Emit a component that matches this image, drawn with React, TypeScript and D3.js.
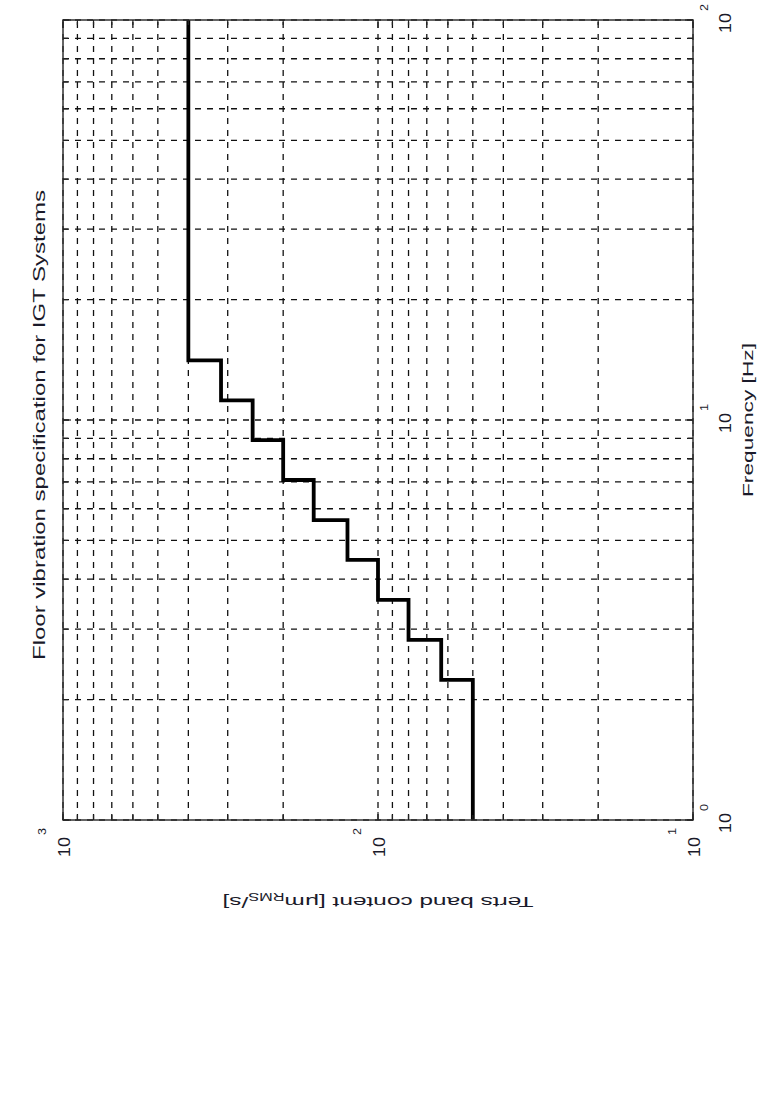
import React from "react";
import * as d3 from "d3";

// Third-octave band edges (Hz) and band content limits (um_RMS/s)
const bandEdges = [1, 2.24, 2.82, 3.55, 4.47, 5.62, 7.08, 8.91, 11.2, 14.1, 100];
const bandValues = [50, 63, 80, 100, 125, 160, 200, 250, 315, 400, 400];

const freqTicksMajor = [1, 10, 100];
const freqExponents = ["0", "1", "2"];
const contentTicksMajor = [10, 100, 1000];
const contentExponents = ["1", "2", "3"];

const freqGrid = [1, 2, 3, 4, 5, 6, 7, 8, 9, 10, 20, 30, 40, 50, 60, 70, 80, 90, 100];
const contentGrid = [10, 20, 30, 40, 50, 60, 70, 80, 90, 100, 200, 300, 400, 500, 600, 700, 800, 900, 1000];

const titleText = "Floor vibration specification for IGT Systems";
const xLabelText = "Frequency [Hz]";

const FONT = "'Liberation Sans', Arial, sans-serif";

export default function App() {
  // Chart drawn in its "original" frame, then rotated -90deg as a whole.
  const x = d3.scaleLog().domain([1, 100]).range([20, 820]);
  const y = d3.scaleLog().domain([10, 1000]).range([693, 63]);
  const [x0, x1] = x.range();
  const [y0, y1] = [y.range()[1], y.range()[0]];

  const pts = bandEdges.map((f, i) => [f, bandValues[i]] as [number, number]);
  const line = d3
    .line<[number, number]>()
    .x((d) => x(d[0]))
    .y((d) => y(d[1]))
    .curve(d3.curveStepAfter);

  const isMajor = (v: number) => Math.abs(Math.log10(v) - Math.round(Math.log10(v))) < 1e-9;

  return (
    <svg
      width={783}
      height={1095}
      style={{ position: "absolute", left: 0, top: 0, background: "#fff" }}
      fontFamily={FONT}
    >
      <rect x={0} y={0} width={783} height={1095} fill="#fff" />
      <g transform="translate(0,840) rotate(-90)">
        {/* grid */}
        <g stroke="#111" strokeWidth={1.3} strokeDasharray="6,6" fill="none">
          {freqGrid.map((f) => (
            <line key={"fg" + f} x1={x(f)} x2={x(f)} y1={y0} y2={y1} />
          ))}
          {contentGrid.map((v) => (
            <line key={"cg" + v} x1={x0} x2={x1} y1={y(v)} y2={y(v)} />
          ))}
        </g>
        {/* step line */}
        <path d={line(pts) || ""} fill="none" stroke="#000" strokeWidth={3.8} strokeLinejoin="miter" />
        {/* box */}
        <rect x={x0} y={y0} width={x1 - x0} height={y1 - y0} fill="none" stroke="#333" strokeWidth={1.5} />
        {/* ticks */}
        <g stroke="#222" strokeWidth={1.2}>
          {freqGrid.map((f) => {
            const len = isMajor(f) ? 8 : 5;
            return (
              <g key={"ft" + f}>
                <line x1={x(f)} x2={x(f)} y1={y1} y2={y1 - len} />
                <line x1={x(f)} x2={x(f)} y1={y0} y2={y0 + len} />
              </g>
            );
          })}
          {contentGrid.map((v) => {
            const len = isMajor(v) ? 8 : 5;
            return (
              <g key={"ct" + v}>
                <line x1={x0} x2={x0 + len} y1={y(v)} y2={y(v)} />
                <line x1={x1} x2={x1 - len} y1={y(v)} y2={y(v)} />
              </g>
            );
          })}
        </g>
        {/* frequency tick labels */}
        {freqTicksMajor.map((f, i) => (
          <g key={"fl" + f} fill="#1a1a2a">
            <text x={x(f) + 7} y={731} fontSize={17} textAnchor="end" textLength={20} lengthAdjust="spacingAndGlyphs">
              10
            </text>
            <text x={x(f) + 9} y={708} fontSize={10} textLength={7} lengthAdjust="spacingAndGlyphs">
              {freqExponents[i]}
            </text>
          </g>
        ))}
        {/* content tick labels */}
        {contentTicksMajor.map((v, i) => (
          <g key={"cl" + v} fill="#1a1a2a">
            <text x={3} y={y(v) + 7} fontSize={17} textAnchor="end" textLength={20} lengthAdjust="spacingAndGlyphs">
              10
            </text>
            <text x={5} y={y(v) - 17} fontSize={10} textLength={7} lengthAdjust="spacingAndGlyphs">
              {contentExponents[i]}
            </text>
          </g>
        ))}
        {/* title */}
        <text x={415} y={45} fontSize={16} textAnchor="middle" fill="#1a1a2a" textLength={470} lengthAdjust="spacingAndGlyphs">
          {titleText}
        </text>
        {/* x label */}
        <text x={420} y={753} fontSize={15} textAnchor="middle" fill="#1a1a2a" textLength={154} lengthAdjust="spacingAndGlyphs">
          {xLabelText}
        </text>
        {/* y label */}
        <text
          transform="translate(-57,378) rotate(-90)"
          fontSize={15}
          textAnchor="middle"
          fill="#1a1a2a"
          textLength={311}
          lengthAdjust="spacingAndGlyphs"
        >
          Terts band content [μm
          <tspan fontSize={10} dy={4}>RMS</tspan>
          <tspan dy={-4}>/s]</tspan>
        </text>
      </g>
    </svg>
  );
}
